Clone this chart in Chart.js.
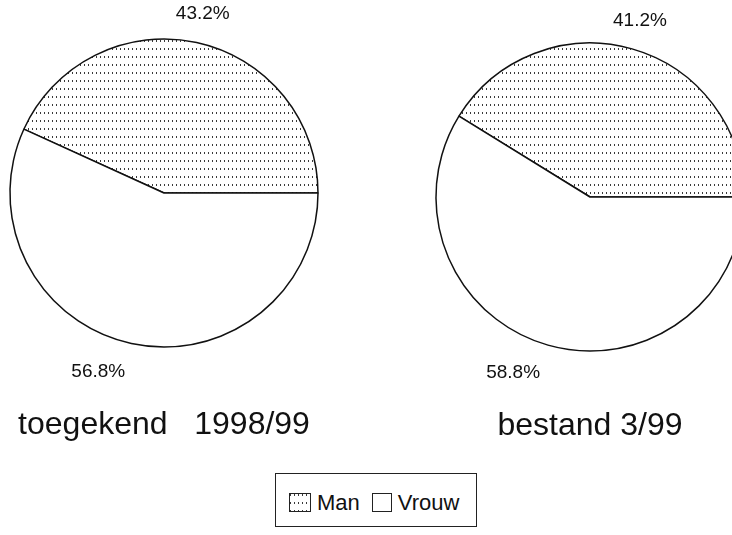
<!DOCTYPE html>
<html>
<head>
<meta charset="utf-8">
<script src="https://cdn.jsdelivr.net/npm/chart.js@4/dist/chart.umd.min.js"></script>
<style>
html,body{margin:0;padding:0;width:732px;height:535px;overflow:hidden;background:#fff;}
#wrap{position:relative;width:732px;height:535px;overflow:hidden;}
canvas.pie{position:absolute;}
#legend{position:absolute;left:275px;top:473px;width:202px;height:54px;border:1px solid #222;box-sizing:border-box;
  font-family:"Liberation Sans",Arial,sans-serif;font-size:22px;color:#111;display:flex;align-items:center;padding:5px 0 0 13px;}
#legend .item{display:flex;align-items:center;margin-right:12px;}
#legend canvas{border:1px solid #222;margin-right:6px;display:block;}
</style>
</head>
<body>
<div id="wrap">
  <canvas id="c0" class="pie"></canvas>
  <canvas id="c1" class="pie"></canvas>
  <div id="legend"></div>
</div>
<script>
// ---- data ----
const categories = ['Man', 'Vrouw'];
const chartTitles = ['toegekend   1998/99', 'bestand 3/99'];
const manShare = [43.2, 41.2];
const vrouwShare = [56.8, 58.8];

// ---- layout (positions only) ----
const FONT = '"Liberation Sans", Arial, sans-serif';
const CANVAS_W = 328, CANVAS_H = 460;
const layouts = [
  { left: 0,   cy: 193, r: 154, baseline: 436 },
  { left: 426, cy: 197, r: 154, baseline: 437 }
];
const TITLE_SIZE = 32, TITLE_LH = 1.2;

function makePattern(ctx) {
  const c = document.createElement('canvas');
  c.width = 4; c.height = 8;
  const g = c.getContext('2d');
  g.fillStyle = '#fff'; g.fillRect(0, 0, 4, 8);
  g.fillStyle = '#3a3a3a'; g.fillRect(0, 0, 1, 2);
  return ctx.createPattern(c, 'repeat');
}

const pctLabels = {
  id: 'pctLabels',
  afterDatasetsDraw(chart) {
    const ctx = chart.ctx;
    const meta = chart.getDatasetMeta(0);
    const vals = chart.data.datasets[0].data;
    ctx.save();
    ctx.font = '19px ' + FONT;
    ctx.fillStyle = '#111';
    ctx.textBaseline = 'middle';
    meta.data.forEach((arc, k) => {
      const p = arc.getProps(['x', 'y', 'startAngle', 'endAngle', 'outerRadius'], true);
      const mid = (p.startAngle + p.endAngle) / 2;
      const R = p.outerRadius + 29;
      const tx = p.x + Math.cos(mid) * R;
      const ty = p.y + Math.sin(mid) * R;
      ctx.textAlign = Math.sin(mid) > 0 ? 'right' : 'center';
      ctx.fillText(vals[k].toFixed(1) + '%', tx, ty);
    });
    ctx.restore();
  }
};

layouts.forEach((L, i) => {
  const cv = document.getElementById('c' + i);
  cv.width = CANVAS_W; cv.height = CANVAS_H;
  cv.style.width = CANVAS_W + 'px'; cv.style.height = CANVAS_H + 'px';
  cv.style.left = L.left + 'px'; cv.style.top = '0px';
  const ctx = cv.getContext('2d');
  const pattern = makePattern(ctx);
  const areaTop = L.cy - L.r;
  const areaBottom = L.cy + L.r;
  const lineH = TITLE_SIZE * TITLE_LH;
  const middleY = L.baseline - 0.3465 * TITLE_SIZE;
  const padTop = middleY - lineH / 2 - areaBottom;
  const padBottom = CANVAS_H - (areaBottom + padTop + lineH);
  const total = manShare[i] + vrouwShare[i];

  new Chart(cv, {
    type: 'pie',
    data: {
      labels: categories,
      datasets: [{
        data: [manShare[i], vrouwShare[i]],
        backgroundColor: [pattern, '#ffffff'],
        borderColor: '#111',
        borderWidth: 1.5,
        radius: L.r
      }]
    },
    options: {
      responsive: false,
      animation: false,
      devicePixelRatio: 1,
      rotation: 90 - 360 * manShare[i] / total,
      layout: { padding: { top: areaTop, left: 0, right: 0, bottom: padBottom } },
      plugins: {
        legend: { display: false },
        tooltip: { enabled: false },
        title: {
          display: true,
          position: 'bottom',
          text: chartTitles[i],
          color: '#111',
          font: { family: FONT, size: TITLE_SIZE, weight: 'normal', lineHeight: TITLE_LH },
          padding: { top: padTop, bottom: 0 }
        }
      }
    },
    plugins: [pctLabels]
  });
});

// ---- legend ----
const legend = document.getElementById('legend');
categories.forEach((name, k) => {
  const item = document.createElement('div');
  item.className = 'item';
  const sw = document.createElement('canvas');
  sw.width = k === 0 ? 20 : 18; sw.height = 17;
  const g = sw.getContext('2d');
  g.fillStyle = k === 0 ? makePattern(g) : '#fff';
  g.fillRect(0, 0, sw.width, sw.height);
  const span = document.createElement('span');
  span.textContent = name;
  item.appendChild(sw); item.appendChild(span);
  legend.appendChild(item);
});
</script>
</body>
</html>
